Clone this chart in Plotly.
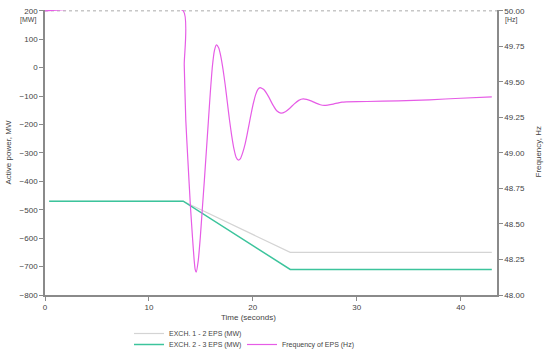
import plotly.graph_objects as go

# Power exchange traces (MW)
t_power = [0.4, 13.3, 23.6, 43.0]
exch12 = [-470, -470, -650, -650]
exch23 = [-470, -470, -710, -710]

# Frequency of EPS (Hz)
t_freq = [0.0, 13.3, 13.4, 13.55, 13.75, 14.0, 14.2, 14.35, 14.45, 14.55,
          14.745, 14.94, 15.135, 15.33, 15.525, 15.72, 15.915, 16.11, 16.305, 16.5,
          16.71, 16.92, 17.13, 17.34, 17.55, 17.76, 17.97, 18.18, 18.39, 18.6,
          18.81, 19.02, 19.23, 19.44, 19.65, 19.86, 20.07, 20.28, 20.49, 20.7,
          21.1, 21.5, 21.9, 22.3, 22.7, 23.13, 23.56, 23.99, 24.42, 24.85,
          25.67, 26.08, 26.49, 26.9, 27.74, 28.16, 28.58, 29.0, 31.0, 34.0, 37.0, 40.0, 43.0]
freq = [50.0, 50.0, 49.62, 49.23, 48.95, 48.62, 48.40, 48.25, 48.18, 48.16,
        48.24, 48.40, 48.60, 48.80, 49.01, 49.22, 49.43, 49.61, 49.72, 49.76,
        49.74, 49.68, 49.59, 49.48, 49.355, 49.23, 49.12, 49.03, 48.97, 48.95,
        48.96, 49.0, 49.055, 49.126, 49.205, 49.284, 49.355, 49.412, 49.448, 49.46,
        49.443, 49.398, 49.342, 49.297, 49.28, 49.29, 49.3145, 49.3455, 49.37, 49.38,
        49.3645, 49.3505, 49.339, 49.335, 49.344, 49.351, 49.358, 49.36, 49.362, 49.367, 49.374, 49.385, 49.395]

x_ticks = [0, 10, 20, 30, 40]
y_ticks = [200, 100, 0, -100, -200, -300, -400, -500, -600, -700, -800]
y2_ticks = [50.00, 49.75, 49.50, 49.25, 49.00, 48.75, 48.50, 48.25, 48.00]

FONT = "Liberation Sans"
AXC = "#8a8a8a"
TXT = "#444444"
L, R, T, B = 45, 53, 10, 59
PW = 550 - L - R
PH = 354 - T - B


def leg(x_px, top_px):
    return dict(x=(x_px - L) / PW, y=(354 - B - top_px) / PH,
                xanchor="left", yanchor="top", orientation="v",
                font=dict(family=FONT, size=7, color=TXT), bgcolor="rgba(0,0,0,0)",
                itemwidth=30)


fig = go.Figure()
fig.add_trace(go.Scatter(x=t_power, y=exch12, mode="lines", name="EXCH. 1 - 2 EPS (MW)",
                         line=dict(color="#d4d4d4", width=1.2), legend="legend"))
fig.add_trace(go.Scatter(x=t_power, y=exch23, mode="lines", name="EXCH. 2 - 3 EPS (MW)",
                         line=dict(color="#3cc49c", width=1.5), legend="legend2"))
fig.add_trace(go.Scatter(x=t_freq, y=freq, mode="lines", name="Frequency of EPS (Hz)",
                         line=dict(color="#e65ce6", width=1.2, shape="spline", smoothing=0.5),
                         yaxis="y2", legend="legend3"))

fig.add_shape(type="line", xref="x", yref="y2", x0=0, x1=43.5, y0=50, y1=50,
              line=dict(color="#aaaaaa", width=1, dash="dot"), layer="below")

axis_common = dict(showgrid=False, zeroline=False, showline=True, linecolor=AXC, linewidth=1.5,
                   ticks="outside", ticklen=4, tickcolor=AXC, automargin=False,
                   tickfont=dict(family=FONT, size=8, color=TXT))

fig.update_layout(
    width=550, height=354,
    margin=dict(l=L, r=R, t=T, b=B, autoexpand=False),
    paper_bgcolor="white", plot_bgcolor="white",
    font=dict(family=FONT, size=8, color=TXT),
    xaxis=dict(range=[0, 43.5], tickvals=x_ticks, **axis_common),
    yaxis=dict(range=[-800, 203], tickvals=y_ticks, **axis_common),
    yaxis2=dict(range=[48.0, 50.006], tickvals=y2_ticks, tickformat=".2f", overlaying="y",
                side="right", **axis_common),
    showlegend=True,
    legend=leg(129, 319),
    legend2=leg(129, 330),
    legend3=leg(242, 330),
    annotations=[
        dict(text="Active power, MW", x=(8 - L) / PW, xref="paper", xanchor="center", y=0.5,
             yref="paper", textangle=-90, showarrow=False, font=dict(size=8, color=TXT)),
        dict(text="Frequency, Hz", x=(538 - L) / PW, xref="paper", xanchor="center", y=0.5,
             yref="paper", textangle=-90, showarrow=False, font=dict(size=8, color=TXT)),
        dict(text="Time (seconds)", x=0.45, xref="paper", y=0, yref="paper", yanchor="top",
             yshift=-16, showarrow=False, font=dict(size=8, color=TXT)),
        dict(text="[MW]", x=0, xref="paper", y=1, yref="paper", xanchor="right", yanchor="top",
             xshift=-7, yshift=-4, showarrow=False, font=dict(size=7, color=TXT)),
        dict(text="[Hz]", x=1, xref="paper", y=1, yref="paper", xanchor="left", yanchor="top",
             xshift=6, yshift=-4, showarrow=False, font=dict(size=7, color=TXT)),
    ],
)

fig.write_html("out.html", config={"displayModeBar": False},
               post_script="document.body.style.margin='0';")
